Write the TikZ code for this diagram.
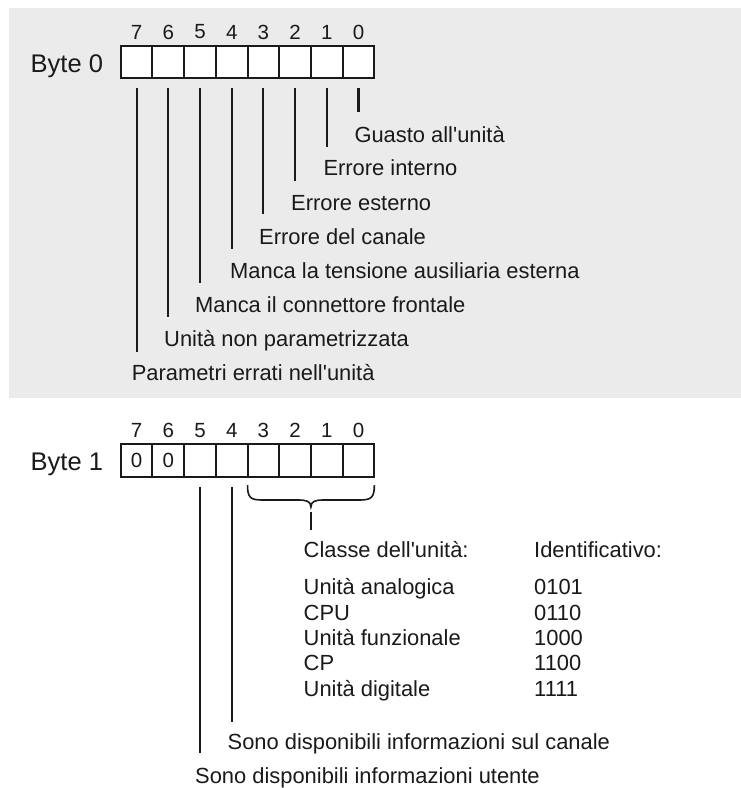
\documentclass[tikz,border=0pt]{standalone}
\usepackage{fontspec}
\setmainfont{Liberation Sans}
\definecolor{bgGrey}{RGB}{235,235,235}
\definecolor{ink}{RGB}{26,26,26}
\tikzset{
  lbl/.style={anchor=base west, inner sep=0pt, text=ink, font=\fontsize{21.9}{24}\selectfont},
  bytelbl/.style={anchor=base west, inner sep=0pt, text=ink, font=\fontsize{25.5}{28}\selectfont},
  bitnum/.style={anchor=center, inner sep=0pt, text=ink, font=\fontsize{20.5}{24}\selectfont},
  cell/.style={draw=ink, line width=2pt, fill=white, minimum width=31.7pt, minimum height=32.6pt, inner sep=0pt, outer sep=0pt, text=ink, font=\fontsize{20.5}{24}\selectfont},
  conn/.style={draw=ink, line width=2.1pt},
  bracestyle/.style={draw=ink, line width=1.6pt}
}
\begin{document}
\begin{tikzpicture}[x=1pt,y=-1pt]
\useasboundingbox (0,0) rectangle (741,788);
\fill[white] (0,0) rectangle (741,788);
\fill[bgGrey] (9,8) rectangle (741,398);

% ---------- Byte 0 ----------
\node[bytelbl] (byte0) at (30.5,72.4) {Byte 0};
\foreach \b in {0,...,7} {
  \node[cell] (a\b) at ({358.5-31.7*\b},62) {};
  \node[bitnum] (na\b) at ({358.5-31.7*\b},32) {\b};
}
\node[lbl] (g0) at (354.3,142.1) {Guasto all\textquotesingle unità};
\node[lbl] (g1) at (323.3,175.5) {Errore interno};
\node[lbl] (g2) at (291,210.1) {Errore esterno};
\node[lbl] (g3) at (259,244.5) {Errore del canale};
\node[lbl] (g4) at (230,278.3) {Manca la tensione ausiliaria esterna};
\node[lbl] (g5) at (195,312.8) {Manca il connettore frontale};
\node[lbl] (g6) at (164,346.8) {Unità non parametrizzata};
\node[lbl] (g7) at (131.6,380.8) {Parametri errati nell\textquotesingle unità};
\foreach \b/\e in {0/112,1/146.5,2/181,3/214,4/249,5/282.5,6/316.5,7/351.5} {
  \coordinate (ea\b) at (0,\e);
  \draw[conn] ([yshift=-10pt]a\b.south) -- (a\b.south |- ea\b);
}

% ---------- Byte 1 ----------
\node[bytelbl] (byte1) at (30.5,470.8) {Byte 1};
\foreach \b in {0,...,5} {
  \node[cell] (b\b) at ({358.5-31.7*\b},460.3) {};
}
\node[cell] (b6) at ({358.5-31.7*6},460.3) {0};
\node[cell] (b7) at ({358.5-31.7*7},460.3) {0};
\foreach \b in {0,...,7} {
  \node[bitnum] (nb\b) at ({358.5-31.7*\b},430.7) {\b};
}
% brace under bits 3..0
\draw[bracestyle] ([yshift=-8.5pt]b3.south west) .. controls (247.5,497) and (250,500) .. (262,500)
  -- (298,500) .. controls (306,500) and (310.9,501) .. (310.9,507)
  .. controls (310.9,501) and (315.8,500) .. (323.8,500)
  -- (359.8,500) .. controls (371.8,500) and (374.3,497) .. ([yshift=-8.5pt]b0.south east);
\coordinate (brtip) at (310.9,511.5);
\coordinate (brend) at (310.9,529.5);
\draw[conn] (brtip) -- (brend);

% table
\node[lbl] (thA) at (303.5,557.8) {Classe dell\textquotesingle unità:};
\node[lbl] (thB) at (534,557.8) {Identificativo:};
\node[lbl] (r1a) at (303.5,594.8) {Unità analogica};
\node[lbl] (r1b) at (534,594.8) {0101};
\node[lbl] (r2a) at (303.5,620.6) {CPU};
\node[lbl] (r2b) at (534,620.6) {0110};
\node[lbl] (r3a) at (303.5,645.8) {Unità funzionale};
\node[lbl] (r3b) at (534,645.8) {1000};
\node[lbl] (r4a) at (303.5,670.8) {CP};
\node[lbl] (r4b) at (534,670.8) {1100};
\node[lbl] (r5a) at (303.5,696.8) {Unità digitale};
\node[lbl] (r5b) at (534,696.8) {1111};

% bottom labels
\node[lbl] (s4) at (227.5,749.5) {Sono disponibili informazioni sul canale};
\node[lbl] (s5) at (195,783.8) {Sono disponibili informazioni utente};
\coordinate (eb4) at (0,721.7);
\coordinate (eb5) at (0,753.3);
\draw[conn] ([yshift=-10.3pt]b4.south) -- (b4.south |- eb4);
\draw[conn] ([yshift=-10.3pt]b5.south) -- (b5.south |- eb5);
\end{tikzpicture}
\end{document}
